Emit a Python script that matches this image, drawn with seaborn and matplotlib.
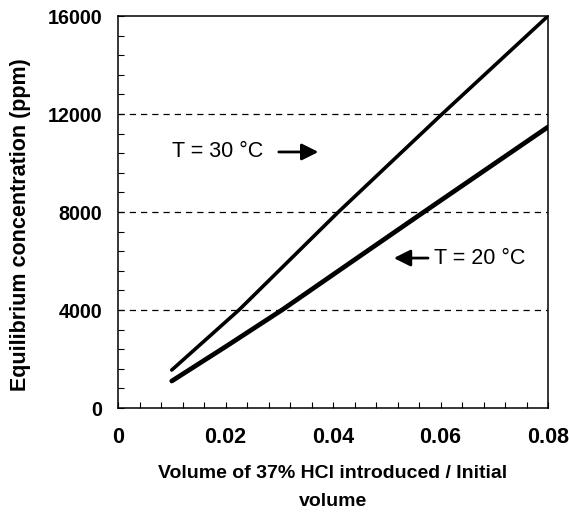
import numpy as np
import pandas as pd
import seaborn as sns
import matplotlib.pyplot as plt
from matplotlib.ticker import MultipleLocator

# data
x_30 = [0.010, 0.0225, 0.041, 0.0603, 0.080]
y_30 = [1550, 4000, 8000, 12000, 16000]
x_20 = [0.010, 0.020, 0.0305, 0.045, 0.0569, 0.080]
y_20 = [1100, 2500, 4000, 6200, 8000, 11470]
ref_levels = [4000, 8000, 12000]
x_ticks = [0, 0.02, 0.04, 0.06, 0.08]
x_labels = ["0", "0.02", "0.04", "0.06", "0.08"]
y_ticks = [0, 4000, 8000, 12000, 16000]


def main():
    sns.set_style("white")
    plt.rcParams['font.family'] = ['Liberation Sans', 'DejaVu Sans']
    plt.rcParams['text.color'] = 'black'
    plt.rcParams['axes.labelcolor'] = 'black'
    plt.rcParams['xtick.color'] = 'black'
    plt.rcParams['ytick.color'] = 'black'

    df30 = pd.DataFrame({"x": x_30, "y": y_30})
    df20 = pd.DataFrame({"x": x_20, "y": y_20})

    fig = plt.figure(figsize=(5.69, 5.13), dpi=100)
    ax = fig.add_axes([118 / 569, 1 - 408 / 513, 430 / 569, 392 / 513])

    for lv in ref_levels:
        ax.axhline(lv, color="black", lw=0.9, ls=(0, (5, 4)), zorder=1)

    sns.lineplot(data=df30, x="x", y="y", color="black", lw=2.6, ax=ax, zorder=3)
    sns.lineplot(data=df20, x="x", y="y", color="black", lw=3.4, ax=ax, zorder=3)

    ax.set_xlim(0, 0.08)
    ax.set_ylim(0, 16000)
    ax.set_xticks(x_ticks)
    ax.set_xticklabels(x_labels)
    ax.set_yticks(y_ticks)
    ax.xaxis.set_minor_locator(MultipleLocator(0.004))
    ax.yaxis.set_minor_locator(MultipleLocator(800))
    ax.tick_params(which="both", direction="in", length=4, width=0.8,
                   top=False, right=False, bottom=True, left=True)
    ax.tick_params(axis="x", which="major", labelsize=15.5, pad=14)
    ax.tick_params(axis="y", which="major", labelsize=14.2, pad=11.5)
    for lab in ax.get_xticklabels() + ax.get_yticklabels():
        lab.set_fontweight("bold")

    for sp in ax.spines.values():
        sp.set_visible(True)
        sp.set_color("black")
        sp.set_linewidth(1.1)

    ax.set_xlabel("Volume of 37% HCl introduced / Initial\nvolume",
                  fontsize=14, fontweight="bold", labelpad=12, linespacing=1.8)
    ax.set_ylabel("Equilibrium concentration (ppm)", fontsize=15.5,
                  fontweight="bold")
    ax.yaxis.set_label_coords(-0.202, 0.467)

    ax.text(0.0100, 10450, "T = 30 °C", fontsize=15.5, va="center", ha="left")
    ax.annotate("", xy=(0.0378, 10450), xytext=(0.0294, 10450),
                arrowprops=dict(arrowstyle="-|>,head_length=1.0,head_width=0.5",
                                color="black", lw=2.0))
    ax.text(0.0588, 6120, "T = 20 °C", fontsize=15.5, va="center", ha="left")
    ax.annotate("", xy=(0.0508, 6120), xytext=(0.0582, 6120),
                arrowprops=dict(arrowstyle="-|>,head_length=1.0,head_width=0.5",
                                color="black", lw=2.0))

    fig.savefig("out.png", dpi=100)


if __name__ == "__main__":
    main()
